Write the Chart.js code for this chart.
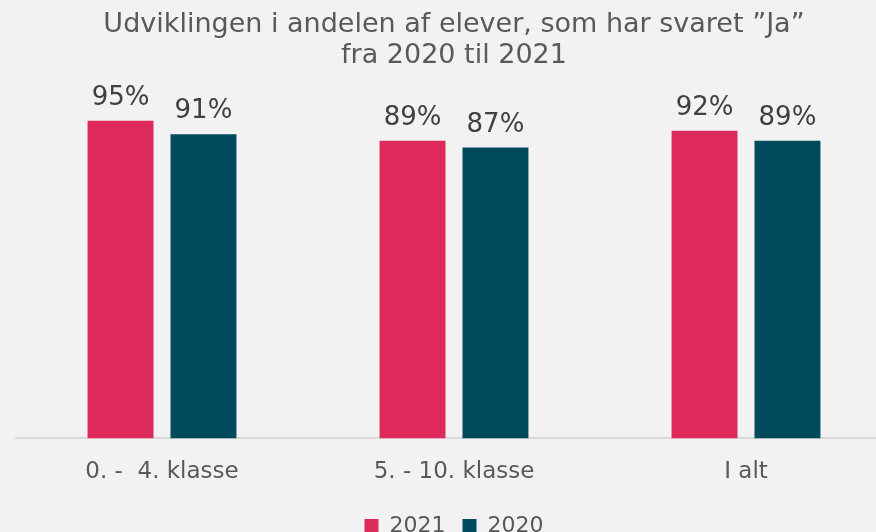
<!DOCTYPE html>
<html>
<head>
<meta charset="utf-8">
<script src="https://cdn.jsdelivr.net/npm/chart.js@4/dist/chart.umd.min.js"></script>
<style>
  html, body { margin: 0; padding: 0; background: #f2f2f2; overflow: hidden; }
  #wrap { width: 892px; height: 532px; }
</style>
</head>
<body>
<div id="wrap"><canvas id="chart"></canvas></div>
<script>
const categories = ['0. -  4. klasse', '5. - 10. klasse', 'I alt'];
const values2021 = [95, 89, 92];
const values2020 = [91, 87, 89];
const titleLines = ['Udviklingen i andelen af elever, som har svaret ”Ja”', 'fra 2020 til 2021'];

const fontFam = 'Verdana, "DejaVu Sans", sans-serif';

// tekst over søjlerne
const valueLabels = {
    id: 'valueLabels',
    afterDatasetsDraw(chart) {
        const ctx = chart.ctx;
        ctx.save();
        ctx.font = '26px ' + fontFam;
        ctx.fillStyle = '#404040';
        ctx.textAlign = 'center';
        ctx.textBaseline = 'alphabetic';
        chart.data.datasets.forEach(function(ds, i) {
            chart.getDatasetMeta(i).data.forEach(function(bar, j) {
                ctx.fillText(ds.data[j] + '%', bar.x, bar.y - 16);
            });
        });
        ctx.restore();
    }
};

document.addEventListener('DOMContentLoaded', function() {
    const ctx = document.getElementById('chart').getContext('2d');
    new Chart(ctx, {
        type: 'bar',
        data: {
            labels: categories,
            datasets: [
                {
                    label: '2021',
                    data: values2021,
                    backgroundColor: '#dd2a5b',
                    categoryPercentage: 0.568,
                    barPercentage: 0.795
                },
                {
                    label: '2020',
                    data: values2020,
                    backgroundColor: '#004a5e',
                    categoryPercentage: 0.568,
                    barPercentage: 0.795
                }
            ]
        },
        options: {
            responsive: true,
            maintainAspectRatio: false,
            animation: false,
            layout: { padding: { left: 16, right: 0, top: 0, bottom: -15 } },
            scales: {
                y: {
                    display: false,
                    min: 0,
                    max: 100
                },
                x: {
                    grid: { display: false },
                    border: { display: true, color: '#d9d9d9', width: 2 },
                    ticks: {
                        color: '#595959',
                        padding: 12,
                        font: { family: fontFam, size: 23 }
                    }
                }
            },
            plugins: {
                legend: {
                    position: 'bottom',
                    labels: {
                        color: '#595959',
                        boxWidth: 14,
                        boxHeight: 14,
                        padding: 17,
                        font: { family: fontFam, size: 22 }
                    }
                },
                title: {
                    display: true,
                    text: titleLines,
                    color: '#595959',
                    padding: { top: 9, bottom: 33 },
                    font: { family: fontFam, size: 27, weight: 'normal', lineHeight: 1.15 }
                },
                tooltip: { enabled: false }
            }
        },
        plugins: [valueLabels]
    });
});
</script>
</body>
</html>
